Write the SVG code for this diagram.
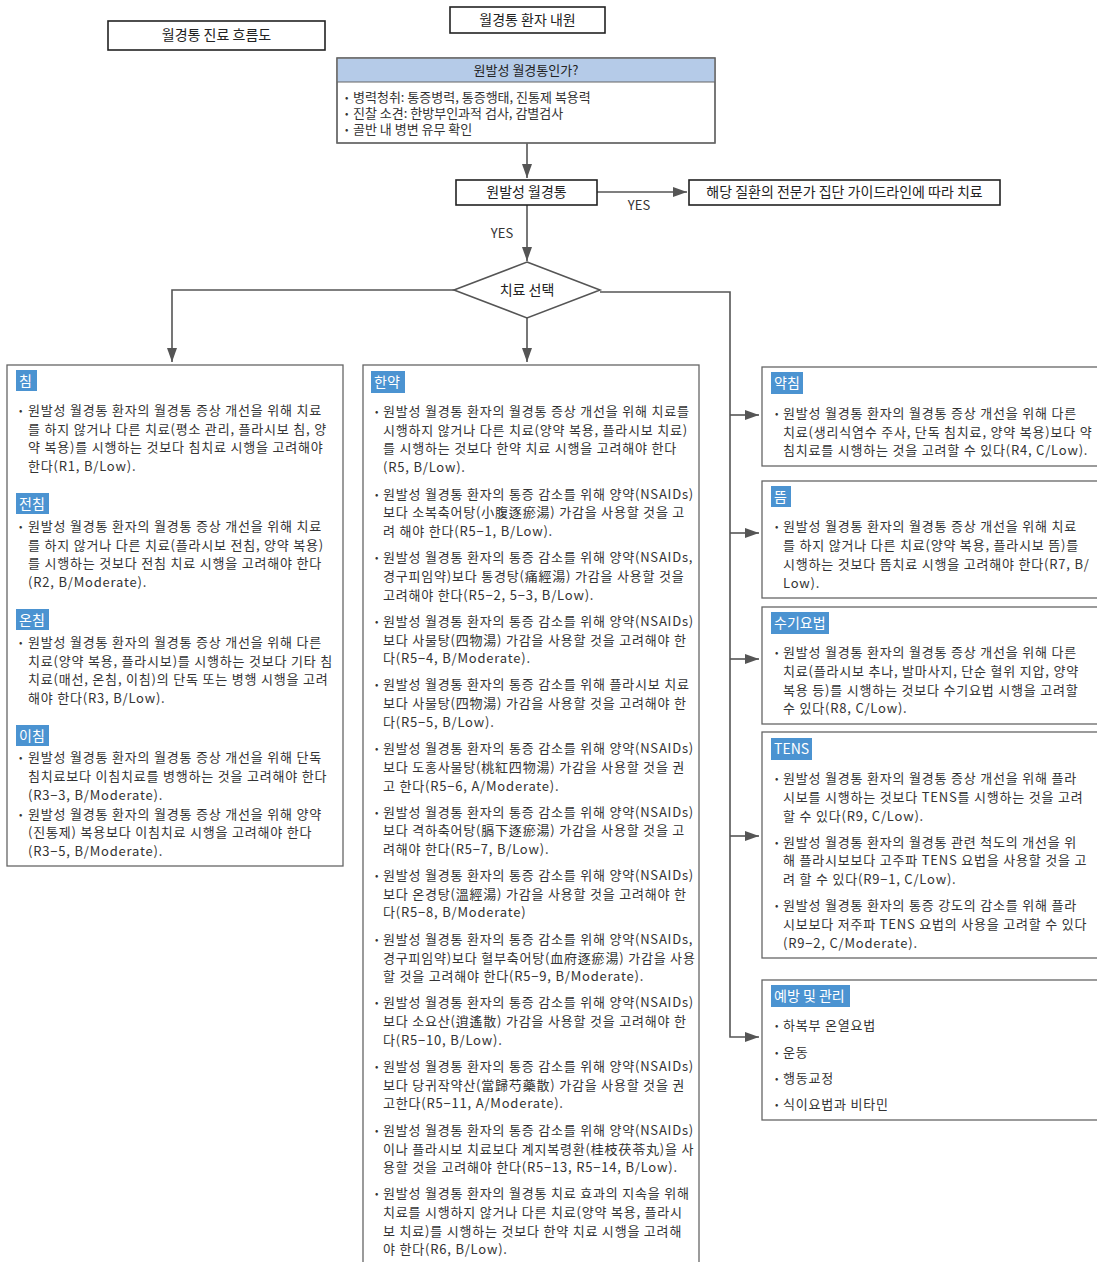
<svg xmlns="http://www.w3.org/2000/svg" width="1097" height="1262" viewBox="0 0 1097 1262">
<defs>
<marker id="ah" viewBox="0 0 14 10" refX="14" refY="5" markerWidth="14" markerHeight="10" markerUnits="userSpaceOnUse" orient="auto"><path d="M0,0 L14,5 L0,10 Z" fill="#555"/></marker>
<style>
text{font-family:"Noto Sans CJK KR","Noto Sans",sans-serif;}
.t{font-size:13px;fill:#333;letter-spacing:0.8px;}
.q{font-size:13px;fill:#333;}
.b{font-size:10px;fill:#333;}
.h{font-size:14px;fill:#222;text-anchor:middle;}
.tag{font-size:14px;fill:#fff;}
.tr{fill:#4b93d1;}
.box{fill:#fff;stroke:#666;stroke-width:1.3;}
.tb{fill:#fff;stroke:#222;stroke-width:1.6;}
.c{fill:none;stroke:#555;stroke-width:1.6;}
.y{font-size:13px;fill:#333;text-anchor:middle;}
</style>
</defs>
<rect width="1097" height="1262" fill="#fff"/>

<g id="connectors">
<path class="c" d="M527,143 V178" marker-end="url(#ah)"/>
<path class="c" d="M597,192 H687" marker-end="url(#ah)"/>
<path class="c" d="M527,205 V261" marker-end="url(#ah)"/>
<path class="c" d="M454,290 H172 V362" marker-end="url(#ah)"/>
<path class="c" d="M527,318 V362" marker-end="url(#ah)"/>
<path class="c" d="M600,292 H730 V1037 H759" marker-end="url(#ah)"/>
<path class="c" d="M730,415 H759" marker-end="url(#ah)"/>
<path class="c" d="M730,533 H759" marker-end="url(#ah)"/>
<path class="c" d="M730,659 H759" marker-end="url(#ah)"/>
<path class="c" d="M730,836 H759" marker-end="url(#ah)"/>
<text class="y" x="639" y="210">YES</text>
<text class="y" x="502" y="238">YES</text>
</g>

<g id="title">
<rect class="tb" x="108" y="21" width="217" height="29"/>
<text class="h" x="216.5" y="40">월경통 진료 흐름도</text>
</g>

<g id="visit">
<rect class="tb" x="450" y="7" width="155" height="26"/>
<text class="h" x="527.5" y="25">월경통 환자 내원</text>
</g>

<g id="q-primary">
<rect class="box" x="337" y="58" width="378" height="85"/>
<rect x="337.6" y="58.6" width="376.8" height="23.4" fill="#b5cbe8"/>
<line x1="337" y1="82" x2="715" y2="82" stroke="#666" stroke-width="1.2"/>
<rect x="337" y="58" width="378" height="85" fill="none" stroke="#666" stroke-width="1.3"/>
<text class="h" x="526" y="75" style="font-size:13px">원발성 월경통인가?</text>
<text class="b"><tspan x="345" y="101">•</tspan><tspan x="345" y="117">•</tspan><tspan x="345" y="133">•</tspan></text>
<text class="q"><tspan x="353" y="102">병력청취: 통증병력, 통증행태, 진통제 복용력</tspan><tspan x="353" y="118">진찰 소견: 한방부인과적 검사, 감별검사</tspan><tspan x="353" y="134">골반 내 병변 유무 확인</tspan></text>
</g>

<g id="primary">
<rect class="tb" x="456" y="180" width="141" height="25"/>
<text class="h" x="526.5" y="197">원발성 월경통</text>
</g>

<g id="guideline">
<rect class="tb" x="689" y="180" width="311" height="25"/>
<text class="h" x="844.5" y="197">해당 질환의 전문가 집단 가이드라인에 따라 치료</text>
</g>

<g id="choice">
<path d="M527,262 L600,290 L527,318 L454,290 Z" fill="#fff" stroke="#555" stroke-width="1.6"/>
<text class="h" x="527" y="295">치료 선택</text>
</g>

<g id="acupuncture">
<rect class="box" x="7" y="365" width="336" height="501"/>
<rect class="tr" x="16" y="370" width="21" height="21"/><text class="tag" x="19" y="386">침</text>
<text class="b" x="19" y="414">•</text>
<text class="t"><tspan x="28" y="415">원발성 월경통 환자의 월경통 증상 개선을 위해 치료</tspan><tspan x="28" y="434">를 하지 않거나 다른 치료(평소 관리, 플라시보 침, 양</tspan><tspan x="28" y="452">약 복용)를 시행하는 것보다 침치료 시행을 고려해야</tspan><tspan x="28" y="471">한다(R1, B/Low).</tspan></text>

<rect class="tr" x="16" y="493" width="33" height="21"/><text class="tag" x="19" y="509">전침</text>
<text class="b" x="19" y="530">•</text>
<text class="t"><tspan x="28" y="531">원발성 월경통 환자의 월경통 증상 개선을 위해 치료</tspan><tspan x="28" y="550">를 하지 않거나 다른 치료(플라시보 전침, 양약 복용)</tspan><tspan x="28" y="568">를 시행하는 것보다 전침 치료 시행을 고려해야 한다</tspan><tspan x="28" y="587">(R2, B/Moderate).</tspan></text>

<rect class="tr" x="16" y="609" width="33" height="21"/><text class="tag" x="19" y="625">온침</text>
<text class="b" x="19" y="646">•</text>
<text class="t"><tspan x="28" y="647">원발성 월경통 환자의 월경통 증상 개선을 위해 다른</tspan><tspan x="28" y="666">치료(양약 복용, 플라시보)를 시행하는 것보다 기타 침</tspan><tspan x="28" y="684">치료(매선, 온침, 이침)의 단독 또는 병행 시행을 고려</tspan><tspan x="28" y="703">해야 한다(R3, B/Low).</tspan></text>

<rect class="tr" x="16" y="725" width="33" height="21"/><text class="tag" x="19" y="741">이침</text>
<text class="b"><tspan x="19" y="761">•</tspan><tspan x="19" y="818">•</tspan></text>
<text class="t"><tspan x="28" y="762">원발성 월경통 환자의 월경통 증상 개선을 위해 단독</tspan><tspan x="28" y="781">침치료보다 이침치료를 병행하는 것을 고려해야 한다</tspan><tspan x="28" y="800">(R3−3, B/Moderate).</tspan><tspan x="28" y="819">원발성 월경통 환자의 월경통 증상 개선을 위해 양약</tspan><tspan x="28" y="837">(진통제) 복용보다 이침치료 시행을 고려해야 한다</tspan><tspan x="28" y="856">(R3−5, B/Moderate).</tspan></text>
</g>

<g id="herbal">
<rect class="box" x="363" y="365" width="336" height="910"/>
<rect class="tr" x="371" y="371" width="34" height="22"/><text class="tag" x="374" y="387">한약</text>
<text class="b"><tspan x="375" y="415">•</tspan><tspan x="375" y="498">•</tspan><tspan x="375" y="561">•</tspan><tspan x="375" y="625">•</tspan><tspan x="375" y="688">•</tspan><tspan x="375" y="752">•</tspan><tspan x="375" y="816">•</tspan><tspan x="375" y="879">•</tspan><tspan x="375" y="943">•</tspan><tspan x="375" y="1006">•</tspan><tspan x="375" y="1070">•</tspan><tspan x="375" y="1134">•</tspan><tspan x="375" y="1197">•</tspan></text>
<text class="t"><tspan x="383" y="416">원발성 월경통 환자의 월경통 증상 개선을 위해 치료를</tspan><tspan x="383" y="435">시행하지 않거나 다른 치료(양약 복용, 플라시보 치료)</tspan><tspan x="383" y="453">를 시행하는 것보다 한약 치료 시행을 고려해야 한다</tspan><tspan x="383" y="472">(R5, B/Low).</tspan></text>
<text class="t"><tspan x="383" y="499">원발성 월경통 환자의 통증 감소를 위해 양약(NSAIDs)</tspan><tspan x="383" y="517">보다 소복축어탕(小腹逐瘀湯) 가감을 사용할 것을 고</tspan><tspan x="383" y="536">려 해야 한다(R5−1, B/Low).</tspan></text>
<text class="t"><tspan x="383" y="562">원발성 월경통 환자의 통증 감소를 위해 양약(NSAIDs,</tspan><tspan x="383" y="581">경구피임약)보다 통경탕(痛經湯) 가감을 사용할 것을</tspan><tspan x="383" y="600">고려해야 한다(R5−2, 5−3, B/Low).</tspan></text>
<text class="t"><tspan x="383" y="626">원발성 월경통 환자의 통증 감소를 위해 양약(NSAIDs)</tspan><tspan x="383" y="645">보다 사물탕(四物湯) 가감을 사용할 것을 고려해야 한</tspan><tspan x="383" y="663">다(R5−4, B/Moderate).</tspan></text>
<text class="t"><tspan x="383" y="689">원발성 월경통 환자의 통증 감소를 위해 플라시보 치료</tspan><tspan x="383" y="708">보다 사물탕(四物湯) 가감을 사용할 것을 고려해야 한</tspan><tspan x="383" y="727">다(R5−5, B/Low).</tspan></text>
<text class="t"><tspan x="383" y="753">원발성 월경통 환자의 통증 감소를 위해 양약(NSAIDs)</tspan><tspan x="383" y="772">보다 도홍사물탕(桃紅四物湯) 가감을 사용할 것을 권</tspan><tspan x="383" y="791">고 한다(R5−6, A/Moderate).</tspan></text>
<text class="t"><tspan x="383" y="817">원발성 월경통 환자의 통증 감소를 위해 양약(NSAIDs)</tspan><tspan x="383" y="835">보다 격하축어탕(膈下逐瘀湯) 가감을 사용할 것을 고</tspan><tspan x="383" y="854">려해야 한다(R5−7, B/Low).</tspan></text>
<text class="t"><tspan x="383" y="880">원발성 월경통 환자의 통증 감소를 위해 양약(NSAIDs)</tspan><tspan x="383" y="899">보다 온경탕(溫經湯) 가감을 사용할 것을 고려해야 한</tspan><tspan x="383" y="917">다(R5−8, B/Moderate)</tspan></text>
<text class="t"><tspan x="383" y="944">원발성 월경통 환자의 통증 감소를 위해 양약(NSAIDs,</tspan><tspan x="383" y="963">경구피임약)보다 혈부축어탕(血府逐瘀湯) 가감을 사용</tspan><tspan x="383" y="981">할 것을 고려해야 한다(R5−9, B/Moderate).</tspan></text>
<text class="t"><tspan x="383" y="1007">원발성 월경통 환자의 통증 감소를 위해 양약(NSAIDs)</tspan><tspan x="383" y="1026">보다 소요산(逍遙散) 가감을 사용할 것을 고려해야 한</tspan><tspan x="383" y="1045">다(R5−10, B/Low).</tspan></text>
<text class="t"><tspan x="383" y="1071">원발성 월경통 환자의 통증 감소를 위해 양약(NSAIDs)</tspan><tspan x="383" y="1090">보다 당귀작약산(當歸芍藥散) 가감을 사용할 것을 권</tspan><tspan x="383" y="1108">고한다(R5−11, A/Moderate).</tspan></text>
<text class="t"><tspan x="383" y="1135">원발성 월경통 환자의 통증 감소를 위해 양약(NSAIDs)</tspan><tspan x="383" y="1154">이나 플라시보 치료보다 계지복령환(桂枝茯苓丸)을 사</tspan><tspan x="383" y="1172">용할 것을 고려해야 한다(R5−13, R5−14, B/Low).</tspan></text>
<text class="t"><tspan x="383" y="1198">원발성 월경통 환자의 월경통 치료 효과의 지속을 위해</tspan><tspan x="383" y="1217">치료를 시행하지 않거나 다른 치료(양약 복용, 플라시</tspan><tspan x="383" y="1236">보 치료)를 시행하는 것보다 한약 치료 시행을 고려해</tspan><tspan x="383" y="1254">야 한다(R6, B/Low).</tspan></text>
</g>

<g id="pharmacopuncture">
<rect class="box" x="762" y="367" width="340" height="99"/>
<rect class="tr" x="771" y="372" width="32" height="22"/><text class="tag" x="774" y="388">약침</text>
<text class="b" x="775" y="417">•</text>
<text class="t"><tspan x="783" y="418">원발성 월경통 환자의 월경통 증상 개선을 위해 다른</tspan><tspan x="783" y="437">치료(생리식염수 주사, 단독 침치료, 양약 복용)보다 약</tspan><tspan x="783" y="455">침치료를 시행하는 것을 고려할 수 있다(R4, C/Low).</tspan></text>
</g>

<g id="moxibustion">
<rect class="box" x="762" y="481" width="340" height="117"/>
<rect class="tr" x="771" y="486" width="20" height="21"/><text class="tag" x="774" y="502">뜸</text>
<text class="b" x="775" y="530">•</text>
<text class="t"><tspan x="783" y="531">원발성 월경통 환자의 월경통 증상 개선을 위해 치료</tspan><tspan x="783" y="550">를 하지 않거나 다른 치료(양약 복용, 플라시보 뜸)를</tspan><tspan x="783" y="569">시행하는 것보다 뜸치료 시행을 고려해야 한다(R7, B/</tspan><tspan x="783" y="588">Low).</tspan></text>
</g>

<g id="manual">
<rect class="box" x="762" y="607" width="340" height="117"/>
<rect class="tr" x="771" y="612" width="58" height="22"/><text class="tag" x="774" y="628">수기요법</text>
<text class="b" x="775" y="656">•</text>
<text class="t"><tspan x="783" y="657">원발성 월경통 환자의 월경통 증상 개선을 위해 다른</tspan><tspan x="783" y="676">치료(플라시보 추나, 발마사지, 단순 혈위 지압, 양약</tspan><tspan x="783" y="695">복용 등)를 시행하는 것보다 수기요법 시행을 고려할</tspan><tspan x="783" y="713">수 있다(R8, C/Low).</tspan></text>
</g>

<g id="tens">
<rect class="box" x="762" y="732" width="340" height="226"/>
<rect class="tr" x="771" y="738" width="41" height="22"/><text class="tag" x="774" y="754">TENS</text>
<text class="b"><tspan x="775" y="782">•</tspan><tspan x="775" y="846">•</tspan><tspan x="775" y="909">•</tspan></text>
<text class="t"><tspan x="783" y="783">원발성 월경통 환자의 월경통 증상 개선을 위해 플라</tspan><tspan x="783" y="802">시보를 시행하는 것보다 TENS를 시행하는 것을 고려</tspan><tspan x="783" y="821">할 수 있다(R9, C/Low).</tspan></text>
<text class="t"><tspan x="783" y="847">원발성 월경통 환자의 월경통 관련 척도의 개선을 위</tspan><tspan x="783" y="865">해 플라시보보다 고주파 TENS 요법을 사용할 것을 고</tspan><tspan x="783" y="884">려 할 수 있다(R9−1, C/Low).</tspan></text>
<text class="t"><tspan x="783" y="910">원발성 월경통 환자의 통증 강도의 감소를 위해 플라</tspan><tspan x="783" y="929">시보보다 저주파 TENS 요법의 사용을 고려할 수 있다</tspan><tspan x="783" y="948">(R9−2, C/Moderate).</tspan></text>
</g>

<g id="prevention">
<rect class="box" x="762" y="980" width="340" height="140"/>
<rect class="tr" x="771" y="985" width="79" height="22"/><text class="tag" x="774" y="1001">예방 및 관리</text>
<text class="b"><tspan x="775" y="1029">•</tspan><tspan x="775" y="1056">•</tspan><tspan x="775" y="1082">•</tspan><tspan x="775" y="1108">•</tspan></text>
<text class="t"><tspan x="783" y="1030">하복부 온열요법</tspan><tspan x="783" y="1057">운동</tspan><tspan x="783" y="1083">행동교정</tspan><tspan x="783" y="1109">식이요법과 비타민</tspan></text>
</g>
</svg>
